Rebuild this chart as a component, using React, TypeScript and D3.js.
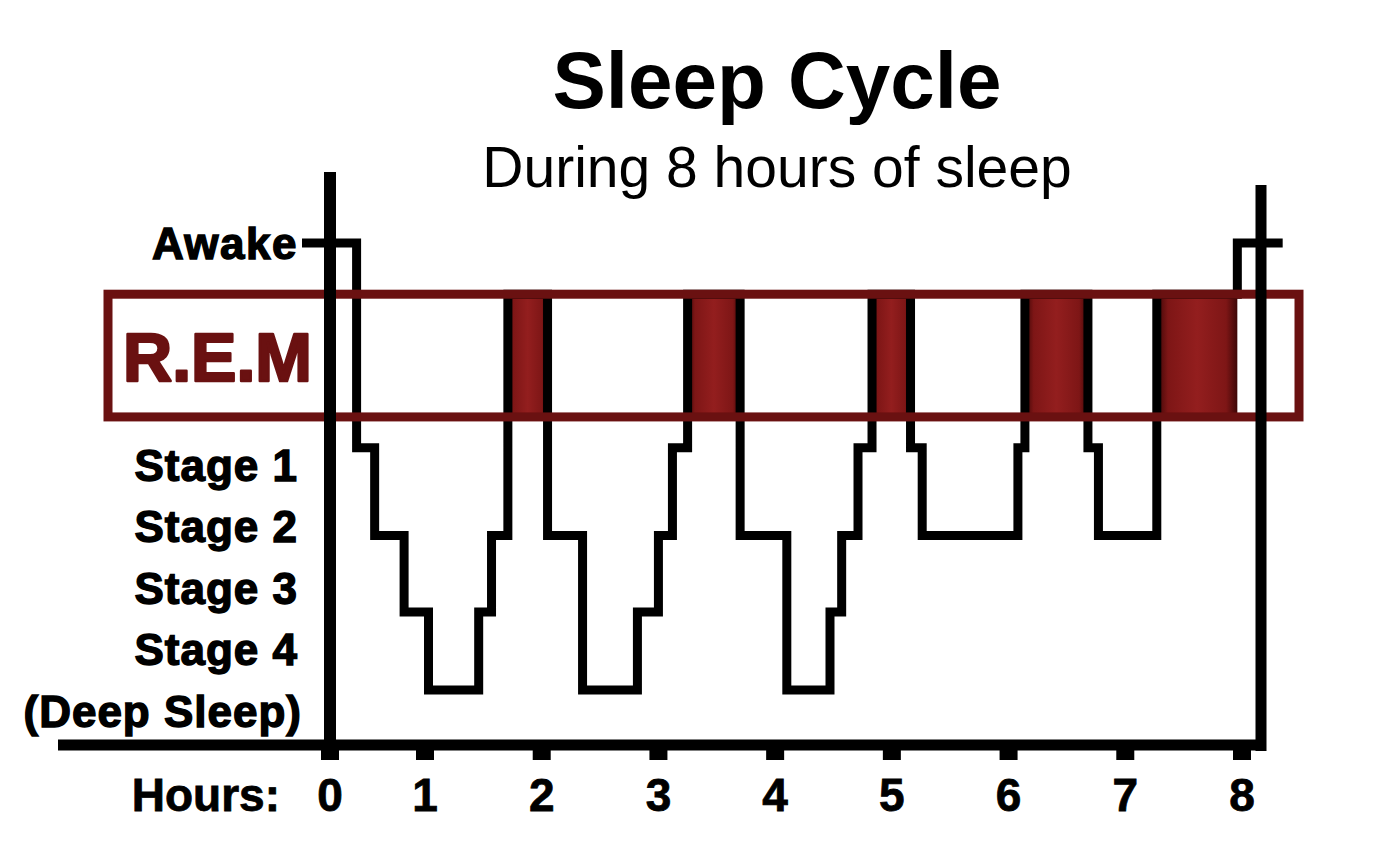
import React from "react";
import * as d3 from "d3";

// ---- data ----
const titleText = "Sleep Cycle";
const subtitleText = "During 8 hours of sleep";
const hourTicks = [0, 1, 2, 3, 4, 5, 6, 7, 8];
const hourBreaks = [0, 1, 8];
const levelNames = ["Awake", "REM", "Stage 1", "Stage 2", "Stage 3", "Stage 4"];
const levelDepths = [-1.5, -0.87, 1.02, 2.1, 3.04, 4];
const remBandDepths = [-0.87, 0.64];
const stageTimes = [
  0, 0.28, 0.47, 0.78, 1.03, 1.46, 1.57, 1.71, 2.05, 2.35, 2.82, 3.0, 3.12, 3.25,
  3.7, 4.1, 4.47, 4.57, 4.71, 4.83, 5.16, 5.26, 6.08, 6.14, 6.68, 6.77, 7.27, 7.96,
];
const stageLevels = [
  "Awake", "Stage 1", "Stage 2", "Stage 3", "Stage 4", "Stage 3", "Stage 2", "REM",
  "Stage 2", "Stage 4", "Stage 3", "Stage 2", "Stage 1", "REM",
  "Stage 2", "Stage 4", "Stage 3", "Stage 2", "Stage 1", "REM",
  "Stage 1", "Stage 2", "Stage 1", "REM",
  "Stage 1", "Stage 2", "REM", "Awake",
];
const endTime = 8.31;
const stageLabelRows = ["Stage 1", "Stage 2", "Stage 3", "Stage 4", "(Deep Sleep)"];
const remLabel = "R.E.M";
const awakeLabel = "Awake";
const hoursLabel = "Hours:";

const FONT = "'Liberation Sans', Arial, Helvetica, sans-serif";
const RED = "#6a1111";

export default function App() {
  const W = 1389;
  const H = 868;
  const x = d3.scaleLinear().domain(hourBreaks).range([330, 425, 1242]);
  const y = d3.scaleLinear().domain([-1.5, 4]).range([243, 690]);
  const depthOf = (name: string) => levelDepths[levelNames.indexOf(name)];

  const pts: [number, number][] = stageTimes
    .map((t, i) => [t, depthOf(stageLevels[i])] as [number, number])
    .concat([[endTime, depthOf("Awake")]]);
  const stepLine = d3
    .line<[number, number]>()
    .x((d) => x(d[0]))
    .y((d) => y(d[1]))
    .curve(d3.curveStepAfter);

  const remSegs: [number, number][] = [];
  stageLevels.forEach((lv, i) => {
    if (lv === "REM") remSegs.push([stageTimes[i], stageTimes[i + 1]]);
  });

  const bandTop = y(remBandDepths[0]);
  const bandBottom = y(remBandDepths[1]);
  const axisY = 745;
  const leftAxisX = x(0);
  const rightAxisX = 1261;
  const labelRow = d3.scalePoint<string>().domain(stageLabelRows).range([465, 711]);

  return (
    <svg
      width={W}
      height={H}
      style={{ position: "absolute", left: 0, top: 0, background: "#fff" }}
    >
      <defs>
        <linearGradient id="remFill" x1="0" x2="1" y1="0" y2="0">
          <stop offset="0%" stopColor="#3d0606" />
          <stop offset="14%" stopColor="#7e1616" />
          <stop offset="50%" stopColor="#931e1e" />
          <stop offset="86%" stopColor="#7e1616" />
          <stop offset="100%" stopColor="#3d0606" />
        </linearGradient>
      </defs>

      {/* titles */}
      <text x={777} y={108} textAnchor="middle" fontFamily={FONT} fontWeight="bold" fontSize={80} fill="#000">
        {titleText}
      </text>
      <text x={777} y={187} textAnchor="middle" fontFamily={FONT} fontSize={57} fill="#000">
        {subtitleText}
      </text>

      {/* REM blocks */}
      {remSegs.map((s, i) => (
        <rect
          key={"rem" + i}
          x={x(s[0])}
          y={bandTop}
          width={x(s[1]) - x(s[0])}
          height={bandBottom - bandTop}
          fill="url(#remFill)"
        />
      ))}

      {/* sleep step line */}
      <path
        d={stepLine(pts) || ""}
        fill="none"
        stroke="#000"
        strokeWidth={9}
        strokeLinejoin="miter"
        strokeLinecap="square"
      />

      {/* REM band outline */}
      <rect
        x={108}
        y={bandTop}
        width={1299 - 108}
        height={bandBottom - bandTop}
        fill="none"
        stroke={RED}
        strokeWidth={9}
      />

      {/* REM label */}
      <text
        x={312}
        y={(bandTop + bandBottom) / 2 + 25}
        textAnchor="end"
        fontFamily={FONT}
        fontWeight="bold"
        fontSize={68}
        fill={RED}
        stroke={RED}
        strokeWidth={2.5}
        strokeLinejoin="round"
      >
        {remLabel}
      </text>

      {/* axes */}
      <line x1={leftAxisX} x2={leftAxisX} y1={172} y2={751} stroke="#000" strokeWidth={12} />
      <line x1={rightAxisX} x2={rightAxisX} y1={185} y2={751} stroke="#000" strokeWidth={11} />
      <line x1={58} x2={rightAxisX + 5} y1={axisY} y2={axisY} stroke="#000" strokeWidth={11} />
      {hourTicks.map((h) => (
        <g key={"t" + h}>
          <rect x={x(h) - 9} y={axisY} width={18} height={15} fill="#000" />
          <text
            x={x(h)}
            y={811}
            textAnchor="middle"
            fontFamily={FONT}
            fontWeight="bold"
            fontSize={46}
            fill="#000"
            stroke="#000"
            strokeWidth={0.8}
          >
            {h}
          </text>
        </g>
      ))}
      <text x={280} y={811} textAnchor="end" fontFamily={FONT} fontWeight="bold" fontSize={46} fill="#000" stroke="#000" strokeWidth={0.8}>
        {hoursLabel}
      </text>

      {/* Awake tick + label */}
      <line x1={302} x2={leftAxisX} y1={y(depthOf("Awake"))} y2={y(depthOf("Awake"))} stroke="#000" strokeWidth={9} />
      <text
        x={298}
        y={y(depthOf("Awake"))}
        dy="0.36em"
        textAnchor="end"
        fontFamily={FONT}
        fontWeight="bold"
        fontSize={44}
        letterSpacing={1.5}
        fill="#000"
        stroke="#000"
        strokeWidth={1.4}
      >
        {awakeLabel}
      </text>

      {/* stage labels */}
      {stageLabelRows.map((r) => (
        <text
          key={r}
          x={r.startsWith("(") ? 302 : 298}
          y={labelRow(r)}
          dy="0.36em"
          textAnchor="end"
          fontFamily={FONT}
          fontWeight="bold"
          fontSize={44}
          letterSpacing={1}
          fill="#000"
          stroke="#000"
          strokeWidth={1.4}
        >
          {r}
        </text>
      ))}
    </svg>
  );
}
